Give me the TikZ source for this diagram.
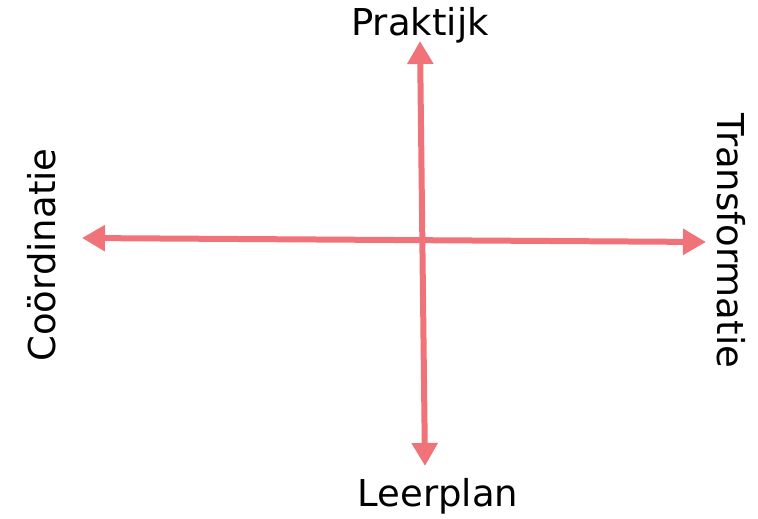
\documentclass[tikz,border=0pt]{standalone}
\usepackage{fontspec}
\setmainfont{DejaVu Sans}
\usetikzlibrary{arrows.meta}
\definecolor{axisred}{RGB}{240,115,122}
\begin{document}
\begin{tikzpicture}[
        x=1pt, y=-1pt,
        axis/.style={draw=axisred, line width=6pt, {Triangle[length=23pt,width=25pt]}-{Triangle[length=23pt,width=25pt]}},
        lbl/.style={font=\fontsize{37}{40}\selectfont, inner sep=0pt},
    ]
    \useasboundingbox (0,0) rectangle (758,519);
    % end points of the two axes
    \coordinate (west) at (82,238);
    \coordinate (east) at (706,242);
    \coordinate (north) at (420,41);
    \coordinate (south) at (425,466);
    \draw[axis] (west) -- (east);
    \draw[axis] (north) -- (south);
    % labels
    \node[lbl](praktijk) at (420,25){Praktijk};
    \node[lbl](leerplan) at (438,496){Leerplan};
    \node[lbl, rotate=90](coord) at (42,255){Coördinatie};
    \node[lbl, rotate=-90](transf) at (731,241){Transformatie};
\end{tikzpicture}
\end{document}
